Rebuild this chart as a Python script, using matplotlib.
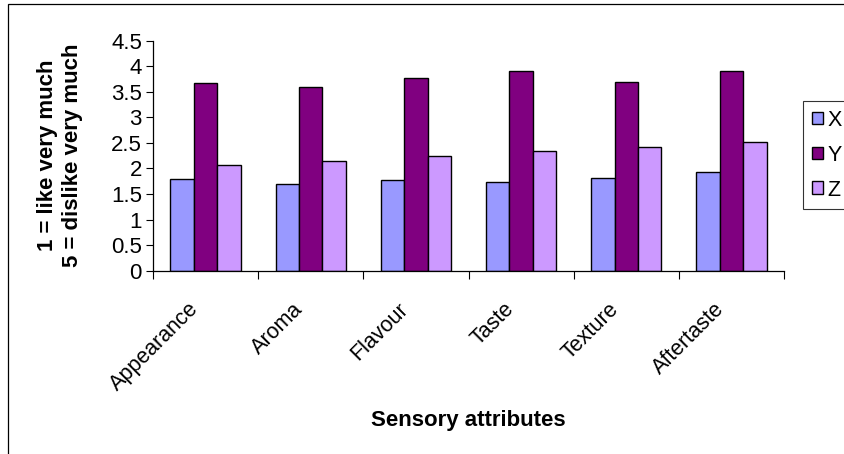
import numpy as np
import matplotlib
matplotlib.use("Agg")
import matplotlib.pyplot as plt
import matplotlib.transforms as mtransforms
from matplotlib.patches import Rectangle

# ================================
# Data
# ================================
attributes = ["Appearance", "Aroma", "Flavour", "Taste", "Texture", "Aftertaste"]
series_names = ["X", "Y", "Z"]
x_scores = [1.80, 1.70, 1.77, 1.74, 1.81, 1.94]
y_scores = [3.67, 3.60, 3.77, 3.90, 3.70, 3.90]
z_scores = [2.07, 2.15, 2.24, 2.35, 2.42, 2.51]
y_ticks = [0, 0.5, 1, 1.5, 2, 2.5, 3, 3.5, 4, 4.5]
y_tick_labels = ["0", "0.5", "1", "1.5", "2", "2.5", "3", "3.5", "4", "4.5"]

colors = ["#9999FF", "#800080", "#CC99FF"]

plt.rcParams["font.family"] = ["Liberation Sans", "DejaVu Sans"]

# ================================
# Figure and axes
# ================================
fig = plt.figure(figsize=(8.45, 4.54), dpi=100)
ax = fig.add_axes([0.1811, 0.4037, 0.7467, 0.5066])

# chart area frame (runs off the right and bottom edges)
fig.patches.append(Rectangle((8 / 845, -0.1), 1.2, 1 - 4 / 454 + 0.1,
                             transform=fig.transFigure, fill=False,
                             edgecolor="black", linewidth=0.9))

n = len(attributes)
idx = np.arange(n)
bar_w = 0.223
for i, (vals, name) in enumerate(zip([x_scores, y_scores, z_scores], series_names)):
    ax.bar(idx + (i - 1) * bar_w, vals, width=bar_w, color=colors[i],
           edgecolor="black", linewidth=1.0, label=name)

ax.set_xlim(-0.5, n - 0.5)
ax.set_ylim(0, 4.5)

# y axis
ax.set_yticks(y_ticks)
ax.set_yticklabels(y_tick_labels, fontsize=16)
ax.tick_params(axis="y", direction="out", length=5, width=0.8, pad=3)

# x axis: ticks on the category boundaries, labels at the centres
ax.set_xticks(np.arange(n + 1) - 0.5)
ax.set_xticklabels([])
ax.tick_params(axis="x", direction="out", length=6, width=0.8)
ax.set_xticks(idx, minor=True)
ax.set_xticklabels(attributes, minor=True, rotation=45, ha="right",
                   va="top", rotation_mode="anchor", fontsize=15.5)
ax.tick_params(axis="x", which="minor", length=0, pad=20)
shift = mtransforms.ScaledTranslation(-18 / 100, 0, fig.dpi_scale_trans)
for lbl in ax.get_xticklabels(minor=True):
    lbl.set_transform(lbl.get_transform() + shift)

for side in ["top", "right"]:
    ax.spines[side].set_visible(False)
for side in ["left", "bottom"]:
    ax.spines[side].set_linewidth(0.9)

ax.set_ylabel("1 = like very much\n5 = dislike very much", fontsize=16,
              fontweight="bold", linespacing=1.25)
ax.yaxis.set_label_coords(-0.148, 0.5)
ax.yaxis.label.set_va("center")
ax.set_xlabel("Sensory attributes", fontsize=16, fontweight="bold")
ax.xaxis.set_label_coords(0.5, -0.653)
ax.xaxis.label.set_va("center")

# legend
leg = fig.legend(loc="upper left", bbox_to_anchor=(803 / 845, 1 - 101 / 454),
                 fontsize=15.5, frameon=True, fancybox=False, handlelength=0.55,
                 handleheight=0.55, handletextpad=0.2, borderpad=0.4,
                 labelspacing=0.65, borderaxespad=0)
leg.get_frame().set_edgecolor("black")
leg.get_frame().set_linewidth(0.8)

fig.savefig("out.png", dpi=100)
